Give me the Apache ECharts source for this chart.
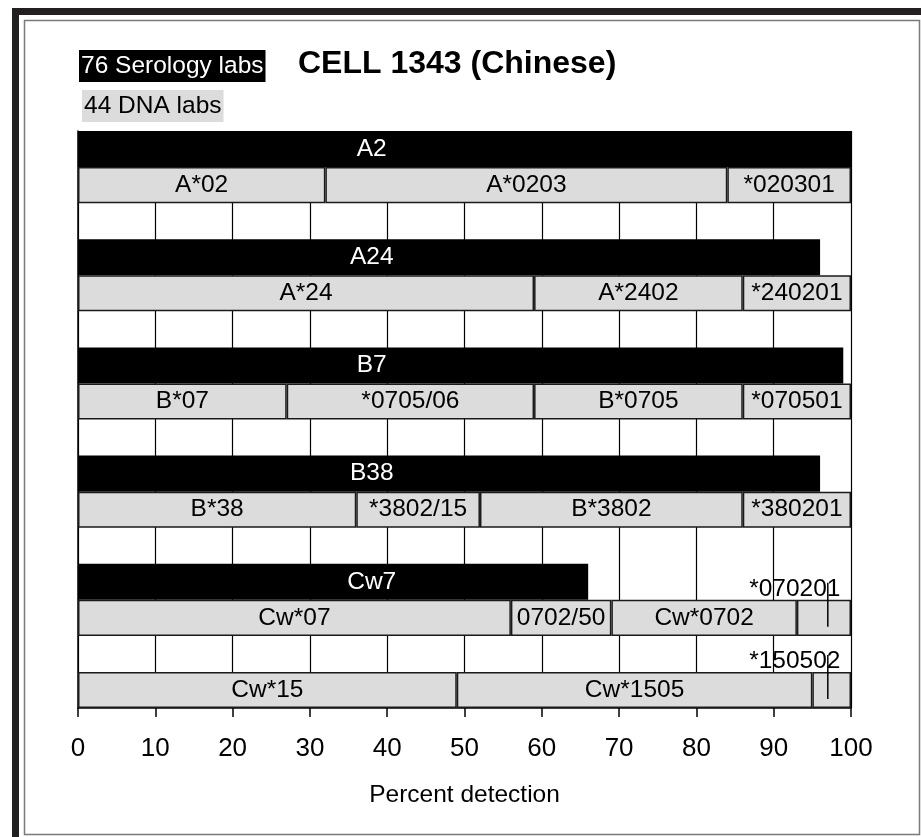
<!DOCTYPE html>
<html>
<head>
<meta charset="utf-8">
<script src="https://cdn.jsdelivr.net/npm/echarts@6/dist/echarts.min.js"></script>
<style>
  html, body { margin: 0; padding: 0; background: #fff; }
  #main { width: 921px; height: 837px; }
</style>
</head>
<body>
<div id="main"></div>
<script>
// rows of the chart, top to bottom (gaps are empty rows)
const slots = ['A2', 'A2 DNA', 'gap1', 'A24', 'A24 DNA', 'gap2', 'B7', 'B7 DNA', 'gap3',
  'B38', 'B38 DNA', 'gap4', 'Cw7', 'Cw7 DNA', 'gap5', 'Cw15 DNA'];

// serology (black bars)
const serologyNames = ['A2', 'A24', 'B7', 'B38', 'Cw7'];
const serologyValues = [100, 96, 99, 96, 66];

// DNA (grey bars): cumulative end of each segment
const dnaRows = ['A2 DNA', 'A24 DNA', 'B7 DNA', 'B38 DNA', 'Cw7 DNA', 'Cw15 DNA'];
const dnaBreaks = [
  [32, 84, 100],
  [59, 86, 100],
  [27, 59, 86, 100],
  [36, 52, 86, 100],
  [56, 69, 93, 100],
  [49, 95, 100]
];
const dnaLabels = [
  ['A*02', 'A*0203', '*020301'],
  ['A*24', 'A*2402', '*240201'],
  ['B*07', '*0705/06', 'B*0705', '*070501'],
  ['B*38', '*3802/15', 'B*3802', '*380201'],
  ['Cw*07', '0702/50', 'Cw*0702', ''],
  ['Cw*15', 'Cw*1505', '']
];

// small segments labelled above with a pointer line
const calloutRows = ['Cw7 DNA', 'Cw15 DNA'];
const calloutValues = [97, 97];
const calloutLabels = ['*070201', '*150502'];

const FONT = "'Liberation Sans', Arial, sans-serif";
const LABEL_X = 38; // where the serology names sit

let myChart = echarts.init(document.getElementById('main'));

let series = [];

// black bars
series.push({
  name: 'serology',
  type: 'bar',
  stack: 'all',
  barCategoryGap: '0%',
  itemStyle: { color: '#000' },
  data: slots.map(s => {
    let i = serologyNames.indexOf(s);
    return i < 0 ? '-' : serologyValues[i];
  }),
  z: 3
});

// grey segments, one series per segment position
for (let j = 0; j < 4; j++) {
  series.push({
    name: 'dna' + j,
    type: 'bar',
    stack: 'all',
    barCategoryGap: '0%',
    itemStyle: { color: '#dcdcdc', borderColor: '#1a1a1a', borderWidth: 1.5 },
    label: {
      show: true,
      position: 'inside',
      color: '#000',
      fontFamily: FONT,
      fontSize: 24.5,
      formatter: p => dnaLabels[dnaRows.indexOf(p.name)][j]
    },
    data: slots.map(s => {
      let r = dnaRows.indexOf(s);
      if (r < 0 || j >= dnaBreaks[r].length) return '-';
      return dnaBreaks[r][j] - (j ? dnaBreaks[r][j - 1] : 0);
    }),
    z: 3
  });
}

// serology names in white
series.push({
  name: 'seroLabels',
  type: 'scatter',
  symbolSize: 0,
  silent: true,
  itemStyle: { opacity: 1 },
  label: {
    show: true,
    position: 'inside',
    color: '#fff',
    fontFamily: FONT,
    fontSize: 24.5,
    formatter: p => p.name
  },
  data: serologyNames.map(n => ({ name: n, value: [LABEL_X, n] })),
  z: 5
});

// callouts
series.push({
  name: 'callouts',
  type: 'scatter',
  symbol: 'rect',
  symbolSize: [1.5, 44],
  symbolOffset: [0, -13],
  itemStyle: { color: '#000', opacity: 1 },
  silent: true,
  label: {
    show: true,
    position: 'inside',
    offset: [-33, -16],
    color: '#000',
    fontFamily: FONT,
    fontSize: 24.5,
    formatter: p => calloutLabels[p.dataIndex]
  },
  data: calloutRows.map((r, i) => [calloutValues[i], r]),
  z: 6
});

myChart.setOption({
  animation: false,
  backgroundColor: '#fff',
  title: [
    {
      text: 'CELL 1343 (Chinese)',
      left: 298,
      top: 48,
      padding: 0,
      textStyle: { fontFamily: FONT, fontWeight: 'bold', fontSize: 32, color: '#000' }
    },
    {
      text: '76 Serology labs',
      left: 79,
      top: 50,
      padding: [1, 2],
      backgroundColor: '#000',
      textStyle: { fontFamily: FONT, fontWeight: 'normal', fontSize: 24.5, color: '#fff', lineHeight: 30 }
    },
    {
      text: '44 DNA labs',
      left: 82,
      top: 90,
      padding: [1, 2],
      backgroundColor: '#dcdcdc',
      textStyle: { fontFamily: FONT, fontWeight: 'normal', fontSize: 24.5, color: '#000', lineHeight: 30 }
    }
  ],
  grid: { left: 78, right: 70, top: 131, bottom: 129 },
  xAxis: {
    type: 'value',
    min: 0,
    max: 100,
    interval: 10,
    name: 'Percent detection',
    nameLocation: 'middle',
    nameGap: 75,
    nameTextStyle: { fontFamily: FONT, fontSize: 24.5, color: '#000' },
    axisLine: { show: true, lineStyle: { color: '#000', width: 1.5 } },
    axisTick: { show: true, length: 9, lineStyle: { color: '#000', width: 1.5 } },
    axisLabel: { margin: 28, fontFamily: FONT, fontSize: 26, color: '#000' },
    splitLine: { show: true, lineStyle: { color: '#000', width: 1.2 } }
  },
  yAxis: {
    type: 'category',
    inverse: true,
    data: slots,
    axisLine: { show: true, lineStyle: { color: '#000', width: 1.5 } },
    axisTick: { show: false },
    axisLabel: { show: false },
    splitLine: { show: false }
  },
  graphic: [
    // heavy outer frame, cut off by the right and bottom edges
    {
      type: 'rect',
      shape: { x: 15.5, y: 11.5, width: 920, height: 840 },
      style: { fill: 'none', stroke: '#231f20', lineWidth: 7 },
      silent: true
    },
    {
      type: 'rect',
      shape: { x: 24.5, y: 20.5, width: 895, height: 814 },
      style: { fill: 'none', stroke: '#7a7a7a', lineWidth: 1.5 },
      silent: true
    }
  ],
  series: series
});
</script>
</body>
</html>
